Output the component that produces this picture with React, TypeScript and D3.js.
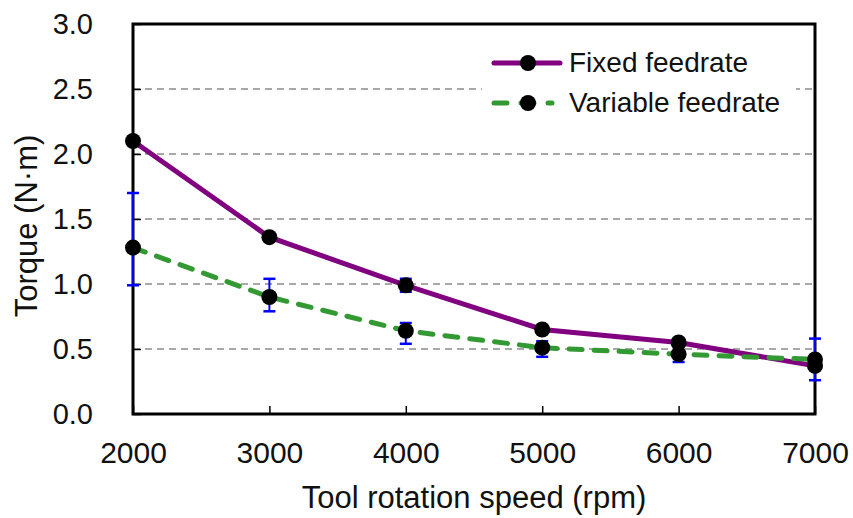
import React, { useRef, useEffect } from 'react';
import * as d3 from 'd3';

const speeds = [2000, 3000, 4000, 5000, 6000, 7000];
const fixedTorque = [2.1, 1.36, 0.99, 0.65, 0.55, 0.37];
const fixedLow = [2.08, 1.34, 0.94, 0.63, 0.53, 0.35];
const fixedHigh = [2.12, 1.38, 1.04, 0.67, 0.57, 0.39];
const variableTorque = [1.28, 0.9, 0.64, 0.51, 0.46, 0.42];
const variableLow = [0.99, 0.79, 0.54, 0.44, 0.4, 0.26];
const variableHigh = [1.7, 1.04, 0.7, 0.56, 0.52, 0.58];
const yTicks = [0, 0.5, 1.0, 1.5, 2.0, 2.5, 3.0];
const seriesNames = ['Fixed feedrate', 'Variable feedrate'];

const App = () => {
  const svgRef = useRef(null);

  useEffect(() => {
    const svg = d3.select(svgRef.current);
    svg.selectAll('*').remove();

    const left = 133, right = 815, top = 24, bottom = 414;
    const font = 'Liberation Sans, Arial, sans-serif';

    const x = d3.scaleLinear().domain([2000, 7000]).range([left, right]);
    const y = d3.scaleLinear().domain([0, 3]).range([bottom, top]);

    // grid
    svg.append('g')
      .selectAll('line')
      .data(yTicks.filter(t => t > 0 && t < 3))
      .enter()
      .append('line')
      .attr('x1', left).attr('x2', right)
      .attr('y1', d => y(d)).attr('y2', d => y(d))
      .attr('stroke', '#8c8c8c')
      .attr('stroke-width', 1.5)
      .attr('stroke-dasharray', '7,5');

    // axes with inward ticks
    const yAxis = svg.append('g')
      .attr('transform', `translate(${left},0)`)
      .call(d3.axisLeft(y).tickValues(yTicks).tickSize(-8).tickPadding(40).tickFormat(d3.format('.1f')));
    yAxis.select('.domain').remove();
    yAxis.selectAll('line').attr('stroke', '#000').attr('stroke-width', 1.5);
    yAxis.selectAll('text')
      .style('font-family', font).style('font-size', '29px').attr('fill', '#111');

    const xAxis = svg.append('g')
      .attr('transform', `translate(0,${bottom})`)
      .call(d3.axisBottom(x).tickValues(speeds).tickSize(-8).tickPadding(28).tickFormat(d3.format('d')));
    xAxis.select('.domain').remove();
    xAxis.selectAll('line').attr('stroke', '#000').attr('stroke-width', 1.5);
    xAxis.selectAll('text')
      .style('font-family', font).style('font-size', '30px').attr('fill', '#111');

    svg.append('rect')
      .attr('x', left).attr('y', top)
      .attr('width', right - left).attr('height', bottom - top)
      .attr('fill', 'none').attr('stroke', '#000').attr('stroke-width', 3);

    // legend box
    svg.append('rect')
      .attr('x', 482).attr('y', 44).attr('width', 314).attr('height', 76)
      .attr('fill', '#fff');

    const series = [
      { name: seriesNames[0], values: fixedTorque, low: fixedLow, high: fixedHigh, color: '#800080', dash: null },
      { name: seriesNames[1], values: variableTorque, low: variableLow, high: variableHigh, color: '#339933', dash: '13,12' },
    ];

    const line = d3.line<number>()
      .x((_, i) => x(speeds[i]))
      .y(d => y(d));

    // error bars
    series.forEach(s => {
      const g = svg.append('g');
      speeds.forEach((sp, i) => {
        const cx = x(sp);
        g.append('line').attr('x1', cx).attr('x2', cx)
          .attr('y1', y(s.low[i])).attr('y2', y(s.high[i]))
          .attr('stroke', '#0000ff').attr('stroke-width', 2);
        [s.low[i], s.high[i]].forEach(v => {
          g.append('line').attr('x1', cx - 6).attr('x2', cx + 6)
            .attr('y1', y(v)).attr('y2', y(v))
            .attr('stroke', '#0000ff').attr('stroke-width', 2.5);
        });
      });
    });

    series.forEach(s => {
      svg.append('path')
        .attr('d', line(s.values))
        .attr('fill', 'none')
        .attr('stroke', s.color)
        .attr('stroke-width', 5)
        .attr('stroke-linecap', s.dash ? 'round' : 'butt')
        .attr('stroke-dasharray', s.dash);
    });

    series.forEach(s => {
      svg.append('g').selectAll('circle')
        .data(s.values)
        .enter()
        .append('circle')
        .attr('cx', (_, i) => x(speeds[i]))
        .attr('cy', d => y(d))
        .attr('r', 8)
        .attr('fill', '#000');
    });

    // legend
    series.forEach((s, i) => {
      const ly = 63 + i * 40;
      svg.append('line')
        .attr('x1', 494).attr('x2', s.dash ? 552 : 560).attr('y1', ly).attr('y2', ly)
        .attr('stroke', s.color).attr('stroke-width', 5)
        .attr('stroke-linecap', 'round')
        .attr('stroke-dasharray', s.dash ? '13,14' : null);
      svg.append('circle').attr('cx', 528).attr('cy', ly).attr('r', 8).attr('fill', '#000');
      svg.append('text')
        .attr('x', 569).attr('y', ly + 9)
        .style('font-family', font).style('font-size', '28px').attr('fill', '#111')
        .text(s.name);
    });

    svg.append('text')
      .attr('x', (left + right) / 2).attr('y', 508)
      .attr('text-anchor', 'middle')
      .style('font-family', font).style('font-size', '31px').attr('fill', '#111')
      .text('Tool rotation speed (rpm)');

    svg.append('text')
      .attr('transform', `translate(37,226) rotate(-90)`)
      .attr('text-anchor', 'middle')
      .style('font-family', font).style('font-size', '31px').attr('fill', '#111')
      .text('Torque (N·m)');
  }, []);

  return (
    <svg ref={svgRef} width={853} height={518}
      style={{ position: 'absolute', left: 0, top: 0, background: '#fff' }} />
  );
};

export default App;
